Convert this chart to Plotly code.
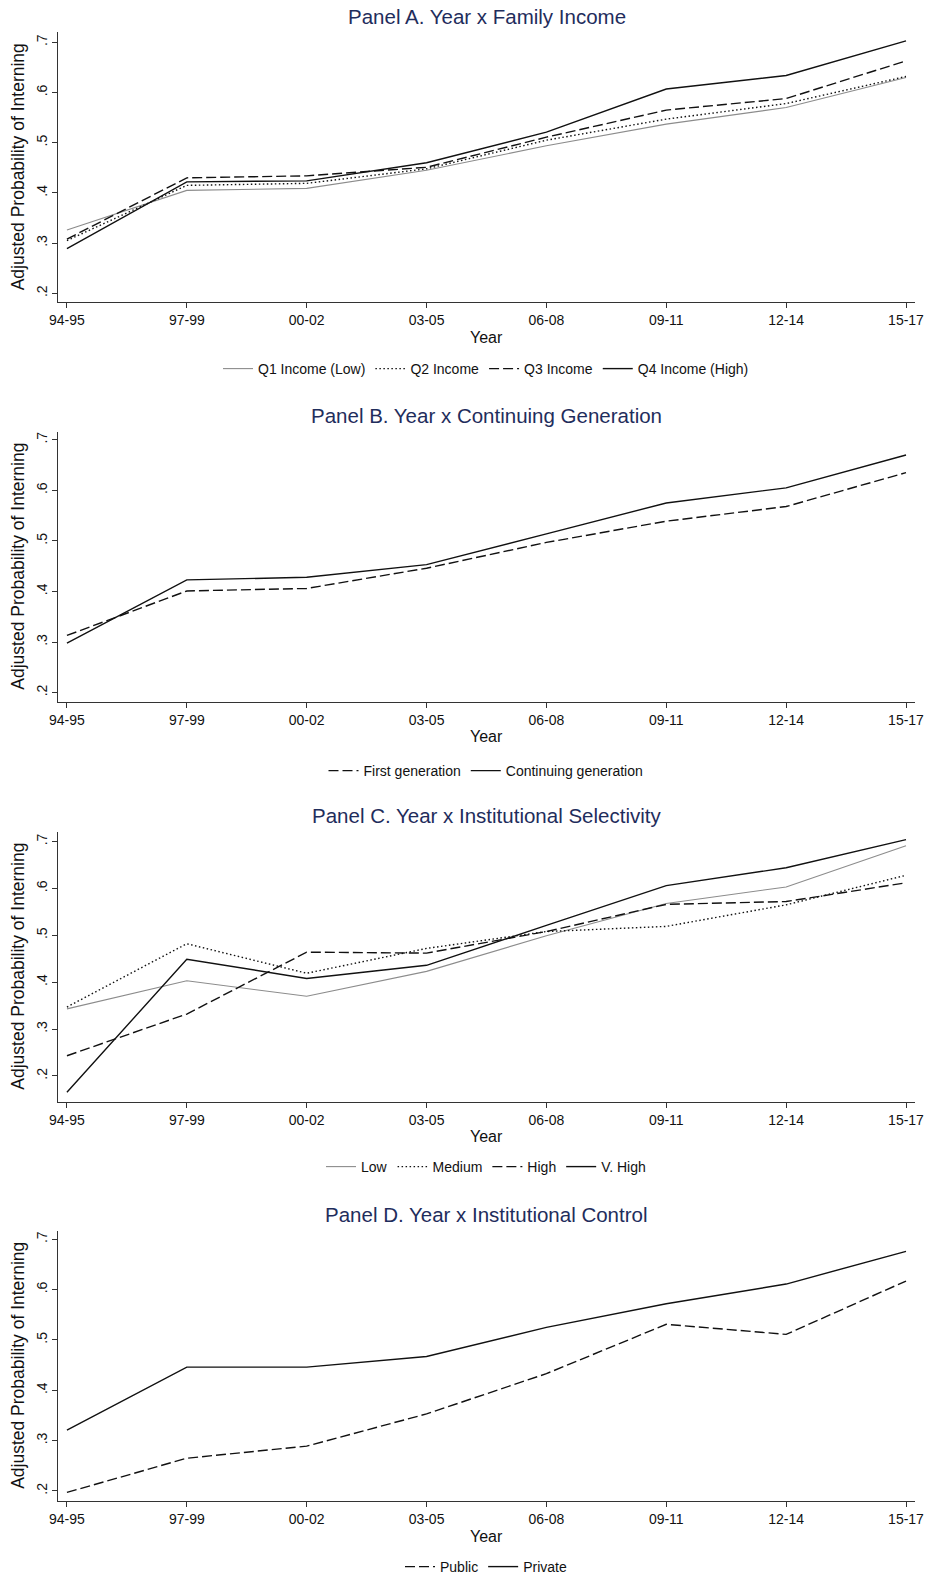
import plotly.graph_objects as go

periods = ["94-95", "97-99", "00-02", "03-05", "06-08", "09-11", "12-14", "15-17"]
y_ticks = [0.2, 0.3, 0.4, 0.5, 0.6, 0.7]
y_ticklabels = [".2", ".3", ".4", ".5", ".6", ".7"]

# Panel A: Family income
q1_income = [0.326, 0.405, 0.409, 0.445, 0.494, 0.537, 0.570, 0.630]
q2_income = [0.305, 0.415, 0.419, 0.448, 0.505, 0.547, 0.578, 0.632]
q3_income = [0.308, 0.430, 0.434, 0.451, 0.511, 0.565, 0.588, 0.663]
q4_income = [0.289, 0.422, 0.424, 0.460, 0.521, 0.607, 0.634, 0.703]

# Panel B: Generation
first_gen = [0.313, 0.401, 0.406, 0.446, 0.497, 0.539, 0.568, 0.635]
continuing_gen = [0.298, 0.423, 0.428, 0.453, 0.514, 0.575, 0.605, 0.670]

# Panel C: Selectivity
sel_low = [0.343, 0.403, 0.370, 0.423, 0.499, 0.568, 0.603, 0.691]
sel_medium = [0.347, 0.482, 0.419, 0.472, 0.508, 0.519, 0.565, 0.628]
sel_high = [0.243, 0.332, 0.464, 0.462, 0.508, 0.566, 0.572, 0.612]
sel_vhigh = [0.165, 0.449, 0.408, 0.436, 0.521, 0.606, 0.644, 0.704]

# Panel D: Control
public = [0.197, 0.265, 0.289, 0.353, 0.433, 0.531, 0.511, 0.617]
private = [0.321, 0.446, 0.446, 0.467, 0.525, 0.572, 0.611, 0.676]

titles = ["Panel A. Year x Family Income",
          "Panel B. Year x Continuing Generation",
          "Panel C. Year x Institutional Selectivity",
          "Panel D. Year x Institutional Control"]

W, H = 927, 1577
FONT = "Arial, Liberation Sans, sans-serif"
GRAY = "#8c8c8c"
BLACK = "#111111"
DASH = "10px,4px"
DOT = "1.5px,2.5px"


def px_x(px):
    return px / W


def px_y(py):
    return 1 - py / H


xpos = list(range(len(periods)))

panels = [
    # (series list, y-range, plot top px, plot bottom px, legend y px)
    ([("Q1 Income (Low)", q1_income, GRAY, "solid", 1.1),
      ("Q2 Income", q2_income, BLACK, DOT, 1.4),
      ("Q3 Income", q3_income, BLACK, DASH, 1.4),
      ("Q4 Income (High)", q4_income, BLACK, "solid", 1.4)],
     [0.182, 0.72], 32.3, 302.3, 369),
    ([("First generation", first_gen, BLACK, DASH, 1.4),
      ("Continuing generation", continuing_gen, BLACK, "solid", 1.4)],
     [0.182, 0.716], 431.7, 701.7, 771),
    ([("Low", sel_low, GRAY, "solid", 1.1),
      ("Medium", sel_medium, BLACK, DOT, 1.4),
      ("High", sel_high, BLACK, DASH, 1.4),
      ("V. High", sel_vhigh, BLACK, "solid", 1.4)],
     [0.145, 0.721], 831.7, 1101.7, 1167),
    ([("Public", public, BLACK, DASH, 1.4),
      ("Private", private, BLACK, "solid", 1.4)],
     [0.18, 0.717], 1230.7, 1501.0, 1567),
]

fig = go.Figure()
x0, x1 = px_x(58.3), px_x(915)
annotations = []
layout_axes = {}
for i, (series, yr, ptop, pbot, legy) in enumerate(panels):
    n = i + 1
    sfx = "" if n == 1 else str(n)
    legname = "legend" if n == 1 else f"legend{n}"
    for name, vals, col, dash, w in series:
        fig.add_trace(go.Scatter(
            x=xpos, y=vals, mode="lines", name=name,
            line=dict(color=col, dash=dash, width=w),
            xaxis=f"x{sfx}", yaxis=f"y{sfx}", legend=legname,
        ))
    dom = [px_y(pbot), px_y(ptop)]
    layout_axes[f"xaxis{sfx}"] = dict(
        domain=[x0, x1], anchor=f"y{sfx}", range=[-0.072, 7.075],
        tickvals=xpos, ticktext=periods, ticks="outside", ticklen=5,
        tickcolor="#333", showline=True, linecolor="#333", linewidth=1,
        showgrid=False, zeroline=False, automargin=False,
        tickfont=dict(family=FONT, size=14, color="#111"),
    )
    layout_axes[f"yaxis{sfx}"] = dict(
        domain=dom, anchor=f"x{sfx}", range=yr,
        tickvals=y_ticks, ticktext=y_ticklabels, tickangle=-90,
        ticks="outside", ticklen=5, tickcolor="#333",
        showline=True, linecolor="#333", linewidth=1,
        showgrid=False, zeroline=False, automargin=False,
        tickfont=dict(family=FONT, size=14, color="#111"),
    )
    layout_axes[legname] = dict(
        orientation="h", x=px_x(486), xanchor="center",
        y=px_y(legy), yanchor="middle",
        font=dict(family=FONT, size=14, color="#111"),
        itemwidth=30, bgcolor="rgba(0,0,0,0)", tracegroupgap=0,
    )
    # Panel title
    annotations.append(dict(
        text=titles[i], xref="paper", yref="paper",
        x=(x0 + x1) / 2, y=px_y(ptop - 16),
        xanchor="center", yanchor="middle", showarrow=False,
        font=dict(family=FONT, size=20.5, color="#1f2d5c"),
    ))
    # X axis title
    annotations.append(dict(
        text="Year", xref="paper", yref="paper",
        x=(x0 + x1) / 2, y=px_y(pbot + 35),
        xanchor="center", yanchor="middle", showarrow=False,
        font=dict(family=FONT, size=16, color="#111"),
    ))
    # Y axis title
    annotations.append(dict(
        text="Adjusted Probability of Interning", xref="paper", yref="paper",
        x=px_x(18), y=(dom[0] + dom[1]) / 2, textangle=-90,
        xanchor="center", yanchor="middle", showarrow=False,
        font=dict(family=FONT, size=17.5, color="#111"),
    ))

fig.update_layout(
    width=W, height=H,
    margin=dict(l=0, r=0, t=0, b=0, autoexpand=False),
    paper_bgcolor="white", plot_bgcolor="white",
    annotations=annotations,
    showlegend=True,
    hovermode=False,
    **layout_axes,
)

fig.write_html(
    "out.html",
    config={"displayModeBar": False, "staticPlot": True},
    post_script=(
        "document.body.style.margin='0';"
        "document.body.style.padding='0';"
        "document.documentElement.style.overflow='hidden';"
        "document.body.style.overflow='hidden';"
    ),
)
